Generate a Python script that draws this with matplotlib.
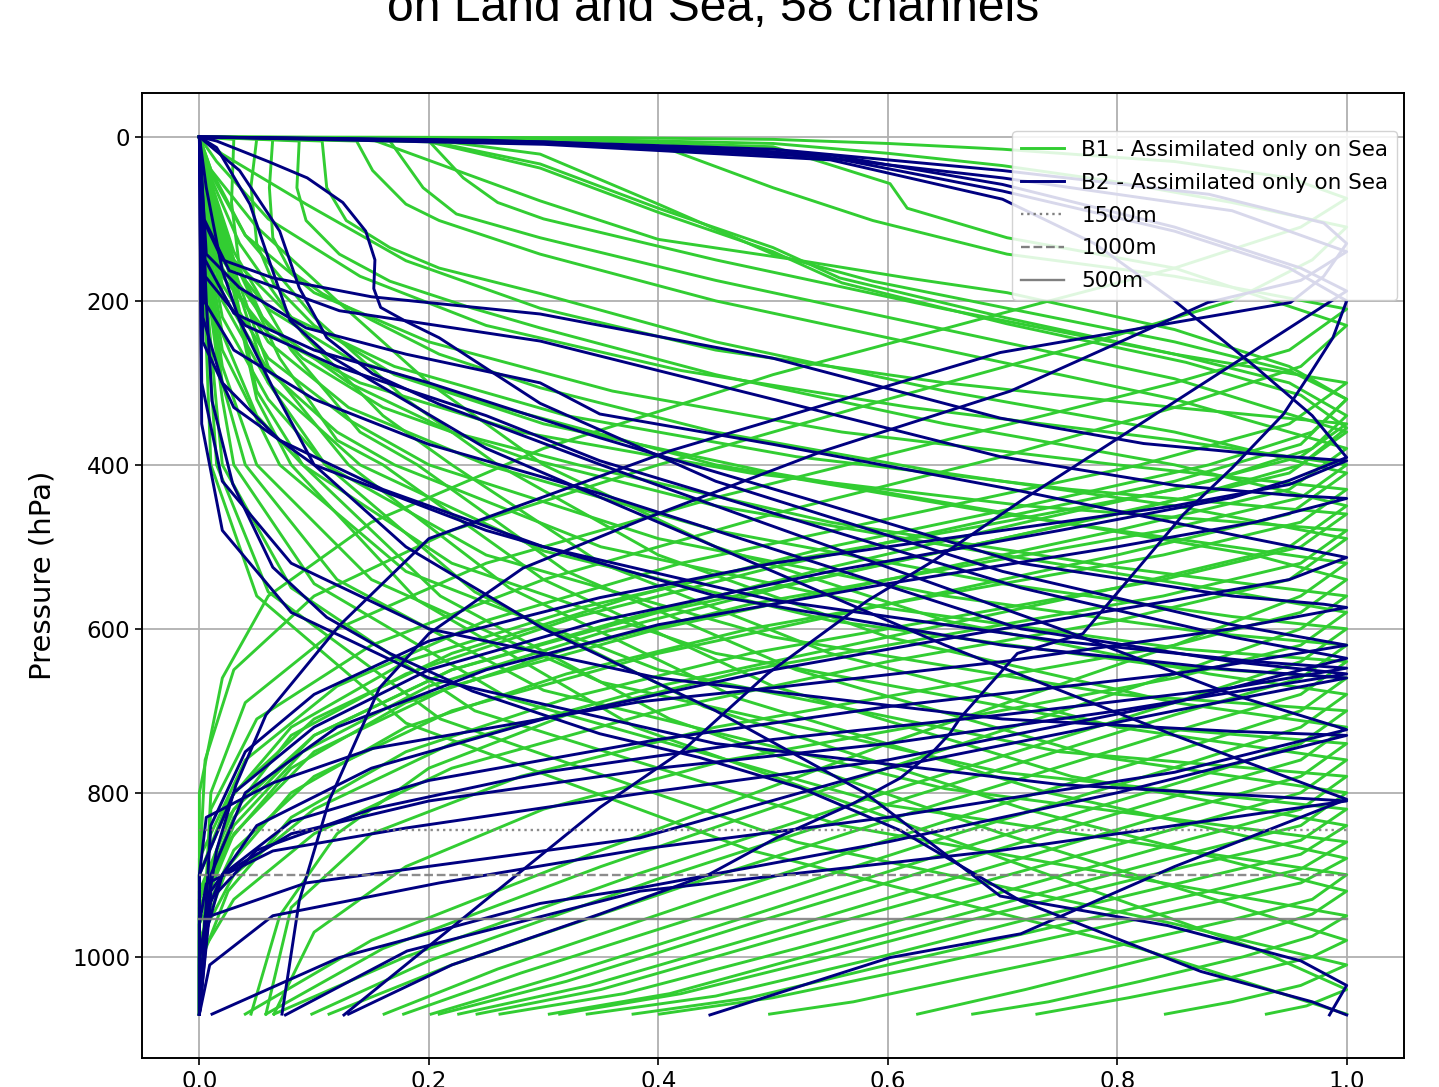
#!/usr/bin/env python3
"""Normalised weighting functions, B1 / B2 channel sets (58 channels)."""

import matplotlib

matplotlib.use("Agg")
import matplotlib.pyplot as plt
from matplotlib.lines import Line2D

B1_COLOR = "limegreen"
B2_COLOR = "navy"
LEVEL_COLOR = "gray"

TITLE = "on Land and Sea, 58 channels"
LEVEL_P = [845, 900, 954]
LEVEL_LABEL = ["1500m", "1000m", "500m"]
LEVEL_STYLE = [":", "--", "-"]

X_TICKS = [0.0, 0.2, 0.4, 0.6, 0.8, 1.0]
Y_TICKS = [0, 200, 400, 600, 800, 1000]

# each curve: list of (normalised weight, pressure hPa) knots
B1_UPPER = [
    [(0, 0), (0.2, 0.5), (0.36, 1), (0.5, 3), (0.6, 8), (0.7, 15), (0.85, 30), (0.95, 50), (1.0, 75),
     (0.96, 110), (0.85, 160), (0.7, 215), (0.5, 290), (0.3, 380), (0.15, 470), (0.06, 560), (0.02, 660), (0, 800), (0, 1070)],
    [(0, 0), (0.3, 2), (0.5, 8), (0.6, 20), (0.7, 35), (0.8, 55), (0.9, 80), (1.0, 110), (0.97, 150), (0.9, 200),
     (0.78, 250), (0.6, 320), (0.4, 400), (0.22, 480), (0.1, 560), (0.03, 650), (0.005, 760), (0, 900), (0, 1070)],
    [(0, 0), (0.2, 2), (0.297, 5), (0.413, 17), (0.5, 62), (0.587, 102), (0.704, 143), (0.85, 170), (1.0, 210),
     (0.95, 260), (0.85, 300), (0.65, 370), (0.45, 440), (0.25, 520), (0.12, 600), (0.04, 690), (0.01, 800), (0, 1070)],
    [(0, 0), (0.3, 3), (0.5, 12), (0.602, 57), (0.617, 87), (0.704, 123), (0.85, 160), (1.0, 230), (0.96, 280),
     (0.85, 330), (0.7, 390), (0.5, 460), (0.3, 540), (0.15, 620), (0.05, 710), (0.01, 820), (0, 1070)],
    [(0, 0), (0.2, 3), (0.297, 21), (0.4, 82), (0.5, 143), (0.587, 176), (0.704, 209), (0.85, 250), (0.95, 285),
     (1.0, 320), (0.97, 360), (0.88, 400), (0.72, 450), (0.55, 500), (0.38, 560), (0.22, 630), (0.1, 710), (0.03, 800),
     (0, 900), (0, 1070)],
    [(0, 0), (0.2, 5), (0.297, 33), (0.4, 87), (0.5, 135), (0.558, 172), (0.704, 221), (0.85, 265), (0.95, 300),
     (1.0, 340), (0.97, 380), (0.88, 420), (0.72, 470), (0.55, 525), (0.38, 585), (0.22, 650), (0.1, 730), (0.03, 820),
     (0, 920), (0, 1070)],
    [(0, 0), (0.2, 6), (0.297, 38), (0.4, 92), (0.5, 140), (0.56, 178), (0.704, 228), (0.86, 275), (0.96, 315),
     (1.0, 355), (0.96, 400), (0.86, 440), (0.7, 490), (0.52, 545), (0.35, 605), (0.2, 670), (0.09, 750), (0.03, 840),
     (0, 940), (0, 1070)],
    [(0, 0), (0.15, 3), (0.297, 78), (0.4, 125), (0.52, 150), (0.617, 172), (0.704, 190), (0.85, 235), (0.95, 280),
     (1.0, 320), (0.96, 375), (0.85, 420), (0.68, 470), (0.5, 525), (0.33, 585), (0.18, 655), (0.08, 730), (0.025, 830),
     (0, 930), (0, 1070)],
]

B1_MID = [
    [(0, 0), (0.064, 1), (0.061, 62), (0.064, 123), (0.079, 163), (0.107, 191), (0.151, 224), (0.209, 265),
     (0.297, 306), (0.45, 360), (0.65, 410), (0.85, 450), (1.0, 490), (0.95, 540), (0.8, 590), (0.6, 640), (0.4, 700),
     (0.22, 770), (0.1, 850), (0.03, 930), (0, 1000), (0, 1070)],
    [(0, 0), (0.087, 5), (0.085, 62), (0.093, 102), (0.122, 143), (0.166, 176), (0.238, 209), (0.297, 233),
     (0.45, 290), (0.65, 350), (0.85, 400), (1.0, 450), (0.95, 500), (0.8, 550), (0.6, 610), (0.4, 670), (0.22, 740),
     (0.1, 820), (0.03, 900), (0, 980), (0, 1070)],
    [(0, 0), (0.107, 5), (0.111, 62), (0.128, 102), (0.166, 135), (0.209, 160), (0.297, 191), (0.45, 250),
     (0.65, 310), (0.85, 360), (1.0, 410), (0.95, 460), (0.8, 510), (0.6, 570), (0.4, 630), (0.22, 700), (0.1, 780),
     (0.03, 870), (0, 960), (0, 1070)],
    [(0, 0), (0.137, 5), (0.151, 41), (0.18, 82), (0.209, 102), (0.297, 143), (0.45, 200), (0.65, 260), (0.85, 320),
     (1.0, 380), (0.95, 430), (0.8, 480), (0.6, 540), (0.4, 600), (0.22, 670), (0.1, 750), (0.03, 850), (0, 950), (0, 1070)],
    [(0, 0), (0.166, 5), (0.195, 62), (0.224, 94), (0.297, 123), (0.45, 175), (0.65, 235), (0.85, 295), (1.0, 360),
     (0.95, 410), (0.8, 460), (0.6, 520), (0.4, 580), (0.22, 650), (0.1, 730), (0.03, 830), (0, 930), (0, 1070)],
    [(0, 0), (0.2, 5), (0.23, 50), (0.26, 80), (0.3, 100), (0.45, 150), (0.65, 210), (0.85, 265), (1.0, 300),
     (0.95, 350), (0.82, 400), (0.62, 460), (0.42, 520), (0.25, 590), (0.12, 670), (0.04, 760), (0, 880), (0, 1070)],
    [(0, 0), (0.05, 2), (0.045, 60), (0.05, 130), (0.065, 180), (0.1, 230), (0.17, 290), (0.3, 350), (0.5, 410),
     (0.75, 470), (0.92, 510), (1.0, 540), (0.96, 580), (0.85, 620), (0.65, 670), (0.45, 720), (0.28, 780),
     (0.15, 850), (0.08, 940), (0.058, 1070)],
    [(0, 0), (0.03, 3), (0.028, 80), (0.035, 160), (0.055, 220), (0.09, 270), (0.16, 330), (0.28, 390), (0.45, 450),
     (0.7, 510), (0.9, 555), (1.0, 580), (0.96, 620), (0.85, 660), (0.66, 710), (0.46, 760), (0.3, 820), (0.18, 890),
     (0.1, 970), (0.065, 1070)],
    [(0, 0), (0.02, 21), (0.093, 82), (0.18, 151), (0.297, 209), (0.45, 260), (0.65, 300), (0.85, 330), (1.0, 350),
     (0.96, 390), (0.85, 430), (0.68, 475), (0.5, 520), (0.33, 575), (0.18, 640), (0.08, 720), (0.025, 810), (0, 900),
     (0, 1070)],
    [(0, 0), (0.015, 30), (0.06, 100), (0.14, 170), (0.25, 230), (0.42, 285), (0.62, 330), (0.85, 370), (1.0, 400),
     (0.96, 440), (0.84, 480), (0.66, 525), (0.48, 570), (0.32, 625), (0.18, 690), (0.08, 770), (0.025, 860), (0, 950),
     (0, 1070)],
    [(0, 0), (0.01, 40), (0.04, 120), (0.1, 190), (0.2, 250), (0.36, 310), (0.56, 360), (0.8, 400), (1.0, 430),
     (0.96, 470), (0.84, 510), (0.66, 555), (0.48, 600), (0.32, 655), (0.18, 720), (0.08, 800), (0.025, 890), (0, 980),
     (0, 1070)],
    [(0, 0), (0.008, 60), (0.03, 150), (0.08, 220), (0.17, 280), (0.32, 340), (0.52, 390), (0.76, 430), (1.0, 460),
     (0.96, 500), (0.84, 540), (0.66, 585), (0.48, 630), (0.32, 685), (0.18, 750), (0.08, 830), (0.025, 920), (0, 1010),
     (0, 1070)],
    [(0, 0), (0.005, 80), (0.02, 170), (0.06, 240), (0.14, 300), (0.28, 360), (0.48, 410), (0.72, 450), (1.0, 480),
     (0.96, 520), (0.84, 560), (0.66, 605), (0.48, 650), (0.32, 705), (0.2, 770), (0.12, 850), (0.07, 950), (0.045, 1070)],
]

B1_LOW = [
    [(0, 0), (0.004, 60), (0.02, 140), (0.06, 210), (0.13, 270), (0.25, 325), (0.45, 400), (0.7, 460), (0.9, 500),
     (1.0, 520), (0.96, 560), (0.85, 620), (0.6, 740), (0.35, 870), (0.15, 980), (0.04, 1070)],
    [(0, 0), (0.004, 60), (0.02, 150), (0.06, 230), (0.13, 300), (0.22, 360), (0.33, 400), (0.55, 470), (0.8, 525),
     (0.93, 548), (1.0, 560), (0.96, 600), (0.85, 655), (0.6, 770), (0.35, 890), (0.16, 990), (0.058, 1070)],
    [(0, 0), (0.004, 70), (0.02, 160), (0.06, 250), (0.13, 330), (0.25, 400), (0.45, 480), (0.7, 545), (0.9, 585),
     (1.0, 600), (0.96, 640), (0.85, 690), (0.62, 790), (0.38, 900), (0.18, 1000), (0.065, 1070)],
    [(0, 0), (0.004, 80), (0.02, 180), (0.06, 270), (0.13, 345), (0.2, 400), (0.4, 490), (0.65, 560), (0.88, 605),
     (1.0, 620), (0.96, 660), (0.85, 705), (0.62, 805), (0.4, 905), (0.2, 1005), (0.098, 1070)],
    [(0, 0), (0.004, 80), (0.02, 190), (0.06, 285), (0.12, 360), (0.17, 400), (0.35, 500), (0.6, 575), (0.86, 625),
     (1.0, 640), (0.96, 680), (0.85, 725), (0.63, 820), (0.42, 915), (0.22, 1010), (0.113, 1070)],
    [(0, 0), (0.004, 90), (0.02, 200), (0.06, 300), (0.14, 400), (0.3, 505), (0.55, 590), (0.84, 645),
     (1.0, 660), (0.96, 700), (0.86, 745), (0.65, 835), (0.45, 925), (0.26, 1015), (0.161, 1070)],
    [(0, 0), (0.01, 40), (0.05, 110), (0.12, 200), (0.2, 300), (0.3, 400), (0.45, 500), (0.65, 590), (0.88, 655),
     (1.0, 680), (0.96, 720), (0.86, 765), (0.66, 850), (0.46, 940), (0.28, 1020), (0.178, 1070)],
    [(0, 0), (0.004, 100), (0.02, 220), (0.06, 320), (0.11, 400), (0.25, 510), (0.5, 610), (0.8, 680),
     (1.0, 700), (0.96, 740), (0.86, 785), (0.67, 865), (0.48, 950), (0.31, 1025), (0.202, 1070)],
    [(0, 0), (0.01, 45), (0.04, 120), (0.1, 220), (0.18, 320), (0.26, 400), (0.4, 510), (0.6, 610), (0.85, 690),
     (1.0, 720), (0.96, 760), (0.86, 800), (0.67, 880), (0.48, 960), (0.32, 1030), (0.209, 1070)],
    [(0, 0), (0.004, 110), (0.02, 240), (0.05, 340), (0.09, 400), (0.22, 520), (0.45, 630), (0.78, 715),
     (1.0, 740), (0.96, 780), (0.86, 820), (0.68, 895), (0.5, 970), (0.34, 1035), (0.226, 1070)],
    [(0, 0), (0.01, 50), (0.035, 130), (0.09, 240), (0.16, 340), (0.22, 400), (0.35, 520), (0.55, 630), (0.8, 720),
     (1.0, 760), (0.96, 800), (0.86, 840), (0.68, 910), (0.5, 980), (0.35, 1040), (0.242, 1070)],
    [(0, 0), (0.004, 120), (0.02, 260), (0.07, 400), (0.18, 530), (0.4, 650), (0.75, 750),
     (1.0, 780), (0.96, 820), (0.86, 858), (0.69, 925), (0.52, 990), (0.37, 1045), (0.262, 1070)],
    [(0, 0), (0.01, 55), (0.03, 140), (0.08, 260), (0.14, 360), (0.19, 400), (0.32, 530), (0.52, 650), (0.78, 755),
     (1.0, 800), (0.96, 840), (0.86, 875), (0.7, 935), (0.54, 995), (0.41, 1045), (0.305, 1070)],
    [(0, 0), (0.004, 130), (0.02, 280), (0.05, 400), (0.15, 540), (0.35, 665), (0.7, 775),
     (1.0, 820), (0.96, 858), (0.86, 890), (0.7, 945), (0.55, 1000), (0.42, 1045), (0.314, 1070)],
    [(0, 0), (0.01, 60), (0.03, 150), (0.07, 270), (0.12, 370), (0.16, 400), (0.3, 540), (0.5, 670), (0.76, 780),
     (1.0, 840), (0.96, 875), (0.87, 905), (0.72, 955), (0.58, 1005), (0.45, 1048), (0.338, 1070)],
    [(0, 0), (0.004, 140), (0.02, 300), (0.04, 400), (0.12, 540), (0.3, 675), (0.65, 795),
     (1.0, 860), (0.96, 893), (0.88, 920), (0.74, 965), (0.6, 1010), (0.48, 1050), (0.378, 1070)],
    [(0, 0), (0.01, 65), (0.03, 160), (0.06, 280), (0.13, 400), (0.27, 550), (0.47, 685), (0.74, 800),
     (1.0, 880), (0.96, 910), (0.88, 935), (0.75, 975), (0.62, 1015), (0.5, 1050), (0.401, 1070)],
    [(0, 0), (0.004, 150), (0.02, 320), (0.03, 400), (0.1, 545), (0.27, 685), (0.6, 815),
     (1.0, 900), (0.97, 930), (0.9, 955), (0.79, 990), (0.67, 1025), (0.57, 1055), (0.497, 1070)],
    [(0, 0), (0.01, 70), (0.03, 170), (0.06, 300), (0.11, 400), (0.24, 555), (0.44, 695), (0.72, 820),
     (1.0, 920), (0.97, 948), (0.91, 975), (0.82, 1005), (0.72, 1040), (0.626, 1070)],
    [(0, 0), (0.004, 160), (0.015, 330), (0.02, 400), (0.08, 550), (0.24, 700), (0.56, 840),
     (1.0, 950), (0.97, 975), (0.91, 1000), (0.82, 1030), (0.74, 1055), (0.674, 1070)],
    [(0, 0), (0.01, 75), (0.03, 180), (0.05, 310), (0.09, 400), (0.21, 560), (0.41, 710), (0.7, 850),
     (1.0, 980), (0.97, 1000), (0.9, 1025), (0.81, 1050), (0.73, 1070)],
    [(0, 0), (0.004, 170), (0.015, 400), (0.06, 555), (0.21, 710), (0.52, 860), (0.85, 960),
     (1.0, 1010), (0.96, 1035), (0.9, 1055), (0.842, 1070)],
    [(0, 0), (0.01, 80), (0.03, 190), (0.05, 320), (0.08, 400), (0.19, 565), (0.38, 720), (0.68, 870), (0.92, 990),
     (1.0, 1040), (0.965, 1060), (0.93, 1070)],
    [(0, 0), (0.004, 180), (0.01, 400), (0.05, 560), (0.18, 715), (0.48, 870), (0.82, 990), (1.0, 1070)],
]

B2_TOP = [
    [(0, 0), (0.25, 4), (0.5, 15), (0.7, 41), (0.88, 70), (0.98, 105), (1.0, 130), (0.98, 170), (0.951, 202),
     (0.698, 263), (0.41, 383), (0.2, 490), (0.122, 596), (0.058, 705), (0.032, 790), (0.015, 870), (0.006, 950), (0, 1070)],
    [(0, 0), (0.25, 5), (0.5, 18), (0.7, 50), (0.9, 90), (1.0, 140), (0.96, 175), (0.879, 202), (0.707, 310),
     (0.544, 383), (0.384, 468), (0.282, 526), (0.2, 606), (0.157, 672), (0.113, 810), (0.087, 932), (0.072, 1070)],
    [(0, 0), (0.3, 6), (0.55, 22), (0.7, 58), (0.85, 110), (0.96, 160), (1.0, 188), (0.858, 316), (0.716, 444),
     (0.64, 517), (0.582, 566), (0.495, 655), (0.421, 749), (0.349, 818), (0.126, 1071)],
    [(0, 0), (0.3, 7), (0.55, 25), (0.7, 66), (0.85, 115), (0.95, 160), (1.0, 200), (0.988, 245), (0.968, 289),
     (0.945, 338), (0.9, 404), (0.858, 460), (0.814, 533), (0.77, 606), (0.713, 630), (0.663, 709), (0.654, 728),
     (0.64, 749), (0.611, 782), (0.57, 813), (0.503, 855), (0.445, 899), (0.349, 948), (0.22, 1010), (0.13, 1070)],
    [(0, 0), (0.3, 9), (0.55, 28), (0.7, 76), (0.78, 130), (0.85, 200), (0.92, 280), (0.97, 340), (1.0, 391),
     (0.95, 419), (0.9, 440), (0.75, 480), (0.55, 530), (0.35, 590), (0.2, 650), (0.1, 720), (0.03, 800), (0, 900), (0, 1070)],
]

B2_MID = [
    [(0, 0), (0.003, 100), (0.02, 150), (0.064, 172), (0.15, 195), (0.297, 216), (0.5, 270), (0.698, 343),
     (0.823, 374), (0.93, 388), (1.0, 395), (0.95, 424), (0.85, 450), (0.7, 480), (0.5, 520), (0.349, 562),
     (0.2, 615), (0.1, 680), (0.04, 750), (0.01, 840), (0, 1070)],
    [(0, 0), (0.004, 100), (0.026, 163), (0.122, 212), (0.297, 249), (0.5, 320), (0.698, 390), (0.85, 425),
     (0.95, 437), (1.0, 441), (0.92, 470), (0.8, 500), (0.6, 545), (0.4, 595), (0.25, 650), (0.12, 720), (0.04, 800),
     (0.01, 900), (0, 1070)],
    [(0, 0), (0.006, 143), (0.035, 184), (0.093, 233), (0.18, 265), (0.297, 300), (0.349, 338), (0.5, 375),
     (0.716, 432), (0.9, 485), (1.0, 513), (0.95, 540), (0.85, 565), (0.7, 600), (0.5, 650), (0.3, 710), (0.15, 770),
     (0.05, 840), (0.01, 920), (0, 1070)],
    [(0, 0), (0.005, 150), (0.03, 215), (0.1, 260), (0.2, 300), (0.349, 367), (0.55, 450), (0.716, 520), (0.9, 560),
     (0.98, 570), (1.0, 574), (0.9, 600), (0.7, 640), (0.5, 672), (0.384, 689), (0.151, 746), (0.064, 788),
     (0.006, 830), (0, 900), (0, 1070)],
    [(0, 0), (0.005, 170), (0.04, 230), (0.12, 280), (0.25, 340), (0.349, 395), (0.55, 480), (0.716, 550), (0.9, 610),
     (1.0, 636), (0.85, 690), (0.6, 760), (0.384, 801), (0.18, 843), (0.064, 871), (0.006, 911), (0, 960), (0, 1070)],
    [(0, 0), (0.004, 200), (0.03, 260), (0.1, 320), (0.2, 375), (0.349, 435), (0.55, 525), (0.716, 600), (0.9, 640),
     (1.0, 655), (0.8, 700), (0.6, 740), (0.4, 770), (0.2, 810), (0.08, 850), (0.02, 900), (0.005, 950), (0, 1070)],
    [(0, 0), (0.003, 250), (0.03, 330), (0.1, 400), (0.25, 480), (0.45, 560), (0.7, 620), (0.9, 650), (1.0, 660),
     (0.85, 700), (0.6, 770), (0.384, 855), (0.093, 910), (0.006, 952), (0, 1000), (0, 1070)],
    [(0, 0), (0.003, 220), (0.02, 300), (0.07, 370), (0.16, 430), (0.3, 500), (0.5, 565), (0.75, 615), (0.92, 640),
     (1.0, 648), (0.9, 672), (0.7, 705), (0.5, 735), (0.3, 775), (0.15, 820), (0.05, 870), (0.01, 930), (0, 1070)],
    [(0, 0), (0.015, 5), (0.06, 30), (0.094, 50), (0.125, 80), (0.145, 115), (0.153, 150), (0.152, 185), (0.158, 208),
     (0.18, 225), (0.209, 245), (0.297, 325), (0.45, 420), (0.7, 530), (0.9, 595), (1.0, 620), (0.85, 655), (0.6, 695),
     (0.4, 735), (0.2, 785), (0.08, 835), (0.02, 900), (0, 1000), (0, 1070)],
    [(0, 0), (0.035, 41), (0.07, 115), (0.087, 184), (0.111, 245), (0.151, 289), (0.209, 326), (0.35, 400),
     (0.55, 500), (0.75, 600), (0.9, 680), (1.0, 723), (0.85, 775), (0.6, 830), (0.384, 869), (0.209, 910),
     (0.064, 950), (0.009, 1010), (0, 1070)],
    [(0, 0), (0.015, 13), (0.044, 82), (0.067, 176), (0.079, 224), (0.111, 265), (0.25, 380), (0.45, 500), (0.65, 620),
     (0.85, 730), (1.0, 808), (0.85, 890), (0.716, 972), (0.602, 1001), (0.445, 1071)],
]

B2_LOW = [
    [(0, 0), (0.003, 100), (0.006, 200), (0.011, 322), (0.029, 423), (0.064, 525), (0.111, 586), (0.166, 630),
     (0.238, 676), (0.349, 728), (0.436, 757), (0.524, 794), (0.611, 846), (0.716, 932), (0.873, 1018), (0.97, 1055),
     (1.0, 1071)],
    [(0, 0), (0.006, 62), (0.02, 163), (0.035, 224), (0.064, 306), (0.1, 400), (0.18, 500), (0.3, 600), (0.45, 700),
     (0.58, 800), (0.698, 926), (0.844, 962), (0.96, 1005), (1.0, 1035), (0.985, 1071)],
    [(0, 0), (0.002, 300), (0.02, 420), (0.08, 520), (0.2, 600), (0.4, 660), (0.7, 710), (0.9, 725), (1.0, 730),
     (0.8, 800), (0.6, 860), (0.384, 916), (0.297, 935), (0.122, 1001), (0.011, 1070)],
    [(0, 0), (0.002, 350), (0.02, 480), (0.08, 580), (0.2, 660), (0.45, 740), (0.75, 790), (1.0, 810), (0.7, 870),
     (0.384, 920), (0.181, 993), (0.075, 1071)],
]


def draw_set(ax, curves, color):
    for knots in curves:
        w = [k[0] for k in knots]
        p = [k[1] for k in knots]
        ax.plot(w, p, color=color, linewidth=2.1, solid_joinstyle="round")


def main() -> None:
    fig = plt.figure(figsize=(14.39, 10.87), dpi=100)
    ax = fig.add_axes([0.0987, 0.0267, 0.877, 0.8877])

    for group in (B1_UPPER, B1_MID, B1_LOW):
        draw_set(ax, group, B1_COLOR)
    for group in (B2_TOP, B2_MID, B2_LOW):
        draw_set(ax, group, B2_COLOR)

    for p, ls in zip(LEVEL_P, LEVEL_STYLE):
        ax.plot([0, 1], [p, p], color=LEVEL_COLOR, linestyle=ls, linewidth=1.7, alpha=0.9)

    ax.set_xlim(-0.05, 1.05)
    ax.set_ylim(1123.5, -53.5)
    ax.set_xticks(X_TICKS)
    ax.set_xticklabels([f"{v:.1f}" for v in X_TICKS])
    ax.set_yticks(Y_TICKS)
    ax.tick_params(labelsize=16.5, length=5, width=1.2)
    ax.grid(True, color="#b0b0b0", linewidth=1.3)
    ax.set_axisbelow(True)
    for s in ax.spines.values():
        s.set_linewidth(1.4)

    ax.set_ylabel("Pressure (hPa)", fontsize=21)
    ax.yaxis.set_label_coords(-0.068, 0.5)

    handles = [
        Line2D([], [], color=B1_COLOR, linewidth=2.1),
        Line2D([], [], color=B2_COLOR, linewidth=2.1),
    ] + [Line2D([], [], color=LEVEL_COLOR, linestyle=ls, linewidth=1.7) for ls in LEVEL_STYLE]
    labels = ["B1 - Assimilated only on Sea", "B2 - Assimilated only on Sea"] + LEVEL_LABEL
    ax.legend(handles, labels, loc="upper right", bbox_to_anchor=(0.9945, 0.9606),
              borderaxespad=0, fontsize=15.5, framealpha=0.85, labelspacing=0.6)

    t = fig.text(0.4955, 0.9807, TITLE, ha="center", va="baseline", fontsize=40,
                 family=["Liberation Sans Narrow", "Liberation Sans"])
    fig.canvas.draw()
    bb = t.get_window_extent()
    t.set_fontsize(40 * 650.0 / bb.width)

    fig.savefig("out.png", dpi=100)


if __name__ == "__main__":
    main()
